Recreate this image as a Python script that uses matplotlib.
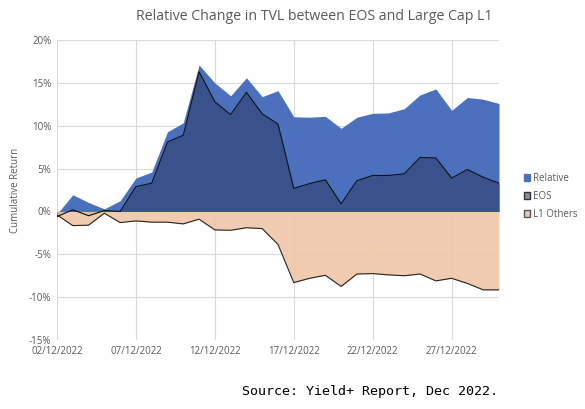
import numpy as np
import matplotlib
matplotlib.use('Agg')
import matplotlib.pyplot as plt
import matplotlib.ticker as mticker
from matplotlib.patches import Patch

# данные (в %)
dates = ["02/12/2022", "03/12/2022", "04/12/2022", "05/12/2022", "06/12/2022",
         "07/12/2022", "08/12/2022", "09/12/2022", "10/12/2022", "11/12/2022",
         "12/12/2022", "13/12/2022", "14/12/2022", "15/12/2022", "16/12/2022",
         "17/12/2022", "18/12/2022", "19/12/2022", "20/12/2022", "21/12/2022",
         "22/12/2022", "23/12/2022", "24/12/2022", "25/12/2022", "26/12/2022",
         "27/12/2022", "28/12/2022", "29/12/2022", "30/12/2022"]
relative = [-0.3, 1.95, 1.05, 0.3, 1.25, 3.9, 4.6, 9.3, 10.35, 17.1,
            15.0, 13.5, 15.6, 13.4, 14.1, 11.05, 11.0, 11.1, 9.7, 11.0,
            11.45, 11.5, 12.0, 13.6, 14.3, 11.8, 13.3, 13.1, 12.6]
eos = [-0.6, 0.2, -0.5, 0.1, 0.0, 2.9, 3.3, 8.1, 8.9, 16.3,
       12.8, 11.3, 13.9, 11.4, 10.2, 2.7, 3.25, 3.7, 0.9, 3.6,
       4.2, 4.2, 4.4, 6.3, 6.25, 3.9, 4.9, 4.0, 3.3]
l1_others = [-0.4, -1.65, -1.6, -0.2, -1.3, -1.1, -1.25, -1.25, -1.45, -0.9,
             -2.15, -2.2, -1.9, -2.0, -3.85, -8.3, -7.8, -7.45, -8.75, -7.3,
             -7.25, -7.4, -7.5, -7.3, -8.1, -7.8, -8.4, -9.15, -9.15]
tick_labels = ["02/12/2022", "07/12/2022", "12/12/2022", "17/12/2022", "22/12/2022", "27/12/2022"]

x = np.arange(len(dates))
tick_pos = [dates.index(t) for t in tick_labels]

c_rel = "#4A70BE"
c_eos = "#39528C"
c_l1 = "#F0C6A6"
grey = "#595959"

fig = plt.figure(figsize=(5.85, 4.09), dpi=100)
ax = fig.add_axes([0.0974, 0.1687, 0.7556, 0.7333])

ax.fill_between(x, 0, relative, color=c_rel, lw=0, zorder=2)
ax.fill_between(x, 0, eos, color=c_eos, lw=0, zorder=3)
ax.plot(x, eos, color="#111111", lw=0.8, zorder=4)
ax.fill_between(x, 0, l1_others, color=c_l1, lw=0, alpha=0.9, zorder=3.5)
ax.plot(x, l1_others, color="#222222", lw=0.8, zorder=4)

ax.set_xlim(0, len(dates) - 1)
ax.set_ylim(-15, 20)
ax.set_yticks(np.arange(-15, 21, 5))
ax.yaxis.set_major_formatter(mticker.FuncFormatter(lambda v, p: f"{v:.0f}%"))
ax.set_xticks(tick_pos)
ax.set_xticklabels(tick_labels)
ax.tick_params(length=0, labelsize=7, colors=grey, pad=4)
for lab in ax.get_xticklabels() + ax.get_yticklabels():
    lab.set_family("Open Sans")
ax.grid(True, color="#D9D9D9", lw=0.8, zorder=0)
ax.set_axisbelow(True)
for s in ax.spines.values():
    s.set_visible(False)

ax.set_ylabel("Cumulative Return", fontsize=7, color=grey, family="Open Sans", labelpad=6)
fig.text(0.538, 0.96, "Relative Change in TVL between EOS and Large Cap L1",
         ha="center", va="center", fontsize=10.2, color=grey, family="Open Sans")

handles = [Patch(facecolor=c_rel, edgecolor=c_rel),
           Patch(facecolor="#8A8FA0", edgecolor="#333333"),
           Patch(facecolor=c_l1, edgecolor="#555555")]
fig.legend(handles, ["Relative", "EOS", "L1 Others"], loc="center left",
           bbox_to_anchor=(0.88, 0.52), frameon=False,
           handlelength=0.7, handleheight=0.7, handletextpad=0.3,
           labelspacing=0.75, labelcolor=grey, prop={"family": "Open Sans", "size": 7})

fig.text(0.413, 0.042, "Source: Yield+ Report, Dec 2022.", fontsize=9.6,
         family="DejaVu Sans Mono", color="black", ha="left", va="center")

fig.savefig("out.png", dpi=100)
